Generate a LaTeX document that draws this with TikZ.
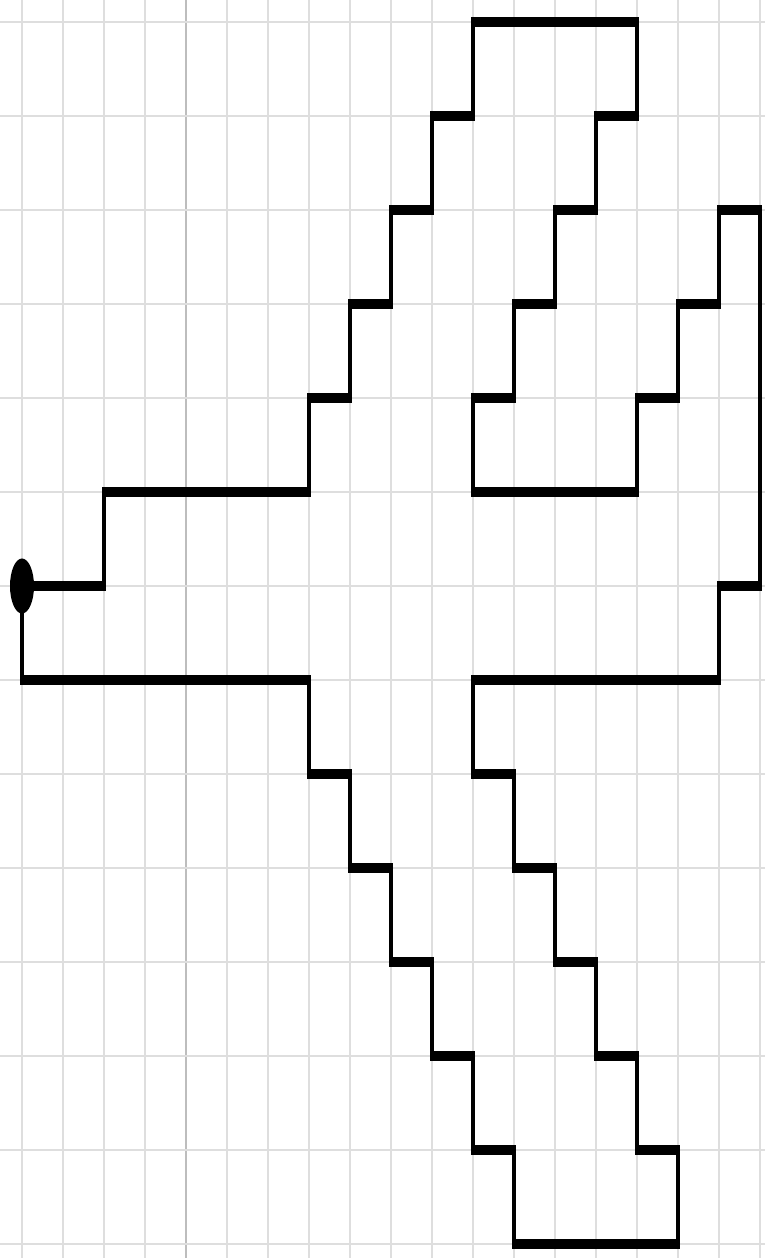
\documentclass[tikz,border=0pt]{standalone}
\begin{document}
\begin{tikzpicture}[
  gridline/.style={draw=black!13, line width=1.2pt},
  gridmajor/.style={draw=black!26, line width=1.2pt},
  route/.style={draw=black, line width=4pt, line join=miter},
  startdot/.style={circle, fill=black, inner sep=0pt, minimum size=24pt}
]
\useasboundingbox (0pt,0pt) rectangle (765pt,-1258pt);
\fill[white] (0pt,0pt) rectangle (765pt,-1258pt);
\begin{scope}[transform canvas={yscale=2.2927}]
\begin{scope}[shift={(22pt,-9.596pt)}, x=41pt, y=-41pt]
  % grid
  \foreach \i in {0,...,18} {
    \draw[gridline] (\i,-0.3) -- (\i,13.2);
  }
  \draw[gridmajor] (4,-0.3) -- (4,13.2);
  \foreach \j in {0,...,13} {
    \draw[gridline] (-0.6,\j) -- (18.2,\j);
  }
  % start point
  \node[startdot] (start) at (0,6) {};
  % route
  \draw[route] (start.center) -- (2,6) -- (2,5) -- (7,5) -- (7,4) -- (8,4) -- (8,3)
    -- (9,3) -- (9,2) -- (10,2) -- (10,1) -- (11,1) -- (11,0) -- (15,0) -- (15,1)
    -- (14,1) -- (14,2) -- (13,2) -- (13,3) -- (12,3) -- (12,4) -- (11,4) -- (11,5)
    -- (15,5) -- (15,4) -- (16,4) -- (16,3) -- (17,3) -- (17,2) -- (18,2) -- (18,6)
    -- (17,6) -- (17,7) -- (11,7) -- (11,8) -- (12,8) -- (12,9) -- (13,9) -- (13,10)
    -- (14,10) -- (14,11) -- (15,11) -- (15,12) -- (16,12) -- (16,13) -- (12,13)
    -- (12,12) -- (11,12) -- (11,11) -- (10,11) -- (10,10) -- (9,10) -- (9,9)
    -- (8,9) -- (8,8) -- (7,8) -- (7,7) -- (0,7) -- (start.center);
\end{scope}
\end{scope}
\end{tikzpicture}
\end{document}
